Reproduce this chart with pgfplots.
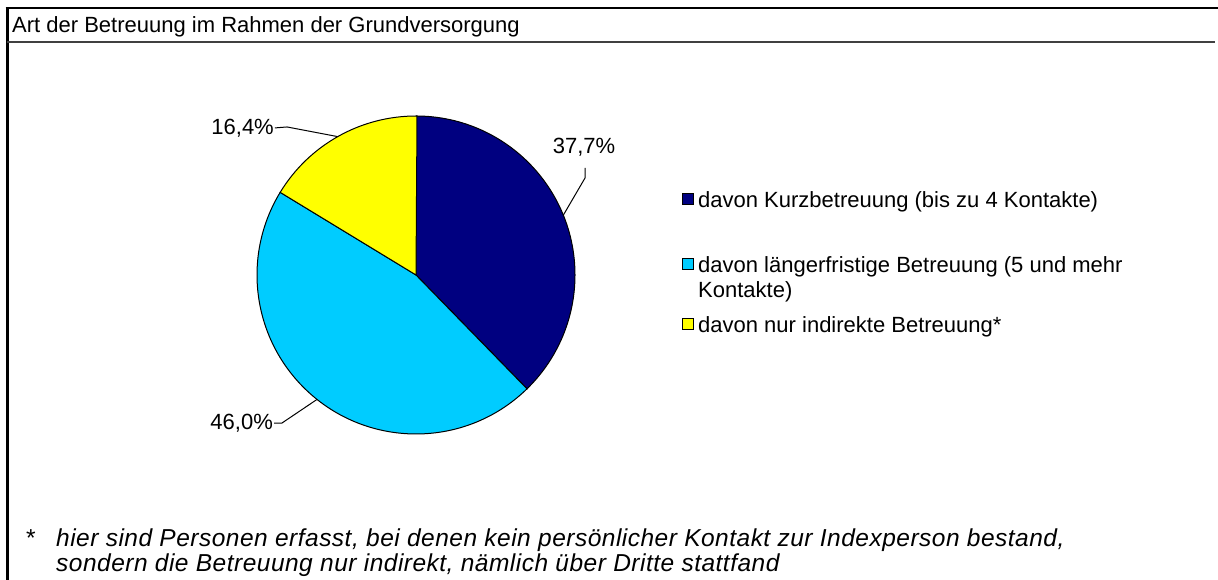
\documentclass[border=0pt]{standalone}
\usepackage{pgfplots}
\pgfplotsset{compat=1.18}
\usepackage{fontspec}
\setmainfont{Liberation Sans}
\definecolor{cNavy}{RGB}{0,0,128}
\definecolor{cCyan}{RGB}{0,204,255}
\definecolor{cYellow}{RGB}{255,255,0}
\begin{document}
\begin{tikzpicture}[x=1pt,y=1pt]
\useasboundingbox (0,0) rectangle (1218,580);
% frame
\draw[line width=3pt] (7,0) -- (7,572);
\draw[line width=2.5pt] (5.5,572) -- (1218,572);
\draw[line width=2pt, black!75] (7,538) -- (1215,538);
\node[anchor=base west, inner sep=0, font=\fontsize{22}{26}\selectfont] at (12,547) {Art der Betreuung im Rahmen der Grundversorgung};
% data
\def\va{37.7}\def\vb{46.0}\def\vc{16.4}
\pgfmathsetmacro\aA{90}
\pgfmathsetmacro\aB{90-3.6*\va}
\pgfmathsetmacro\aC{\aB-3.6*\vb}
\pgfmathsetmacro\aD{\aC-3.6*\vc}
\begin{axis}[at={(416pt,305pt)}, anchor=origin, x=159pt, y=159pt,
  xmin=-1.5, xmax=1.5, ymin=-1.5, ymax=1.5, hide axis, clip=false]
\filldraw[fill=cNavy, draw=black, line width=1pt] (axis cs:0,0) -- (axis cs:{cos(\aA)},{sin(\aA)}) arc[start angle=\aA, end angle=\aB, radius=159pt] -- cycle;
\filldraw[fill=cCyan, draw=black, line width=1pt] (axis cs:0,0) -- (axis cs:{cos(\aB)},{sin(\aB)}) arc[start angle=\aB, end angle=\aC, radius=159pt] -- cycle;
\filldraw[fill=cYellow, draw=black, line width=1pt] (axis cs:0,0) -- (axis cs:{cos(\aC)},{sin(\aC)}) arc[start angle=\aC, end angle=\aD, radius=159pt] -- cycle;
% labels and leaders
\node[anchor=east, inner sep=0, font=\fontsize{22}{26}\selectfont] at (axis cs:-0.893,0.925) {16,4\%};
\draw[line width=1pt] (axis cs:-0.887,0.925) -- (axis cs:-0.811,0.931) -- (axis cs:{cos(119.5)},{sin(119.5)});
\node[anchor=center, inner sep=0, font=\fontsize{22}{26}\selectfont] at (axis cs:1.057,0.805) {37,7\%};
\draw[line width=1pt] (axis cs:1.063,0.673) -- (axis cs:1.063,0.610) -- (axis cs:{cos(22.1)},{sin(22.1)});
\node[anchor=east, inner sep=0, font=\fontsize{22}{26}\selectfont] at (axis cs:-0.899,-0.931) {46,0\%};
\draw[line width=1pt] (axis cs:-0.893,-0.931) -- (axis cs:-0.843,-0.931) -- (axis cs:{cos(-128.5)},{sin(-128.5)});
\end{axis}
% legend
\begin{scope}[font=\fontsize{22}{26}\selectfont]
\filldraw[fill=cNavy, draw=black, line width=1pt] (682,375) rectangle (693,386);
\node[anchor=base west, inner sep=0] at (698,372) {davon Kurzbetreuung (bis zu 4 Kontakte)};
\filldraw[fill=cCyan, draw=black, line width=1pt] (682,310) rectangle (693,321);
\node[anchor=base west, inner sep=0] at (698,307) {davon längerfristige Betreuung (5 und mehr};
\node[anchor=base west, inner sep=0] at (698,282) {Kontakte)};
\filldraw[fill=cYellow, draw=black, line width=1pt] (682,250) rectangle (693,261);
\node[anchor=base west, inner sep=0] at (698,247) {davon nur indirekte Betreuung*};
\end{scope}
% footnote
\node[anchor=base west, inner sep=0, font=\fontsize{24.5}{28}\selectfont] at (26,33) {*};
\node[anchor=base west, inner sep=0, font=\fontsize{24.5}{28}\selectfont\itshape\addfontfeatures{LetterSpace=2}] at (56,33) {hier sind Personen erfasst, bei denen kein persönlicher Kontakt zur Indexperson bestand,};
\node[anchor=base west, inner sep=0, font=\fontsize{24.5}{28}\selectfont\itshape\addfontfeatures{LetterSpace=2}] at (56,8) {sondern die Betreuung nur indirekt, nämlich über Dritte stattfand};
\end{tikzpicture}
\end{document}
